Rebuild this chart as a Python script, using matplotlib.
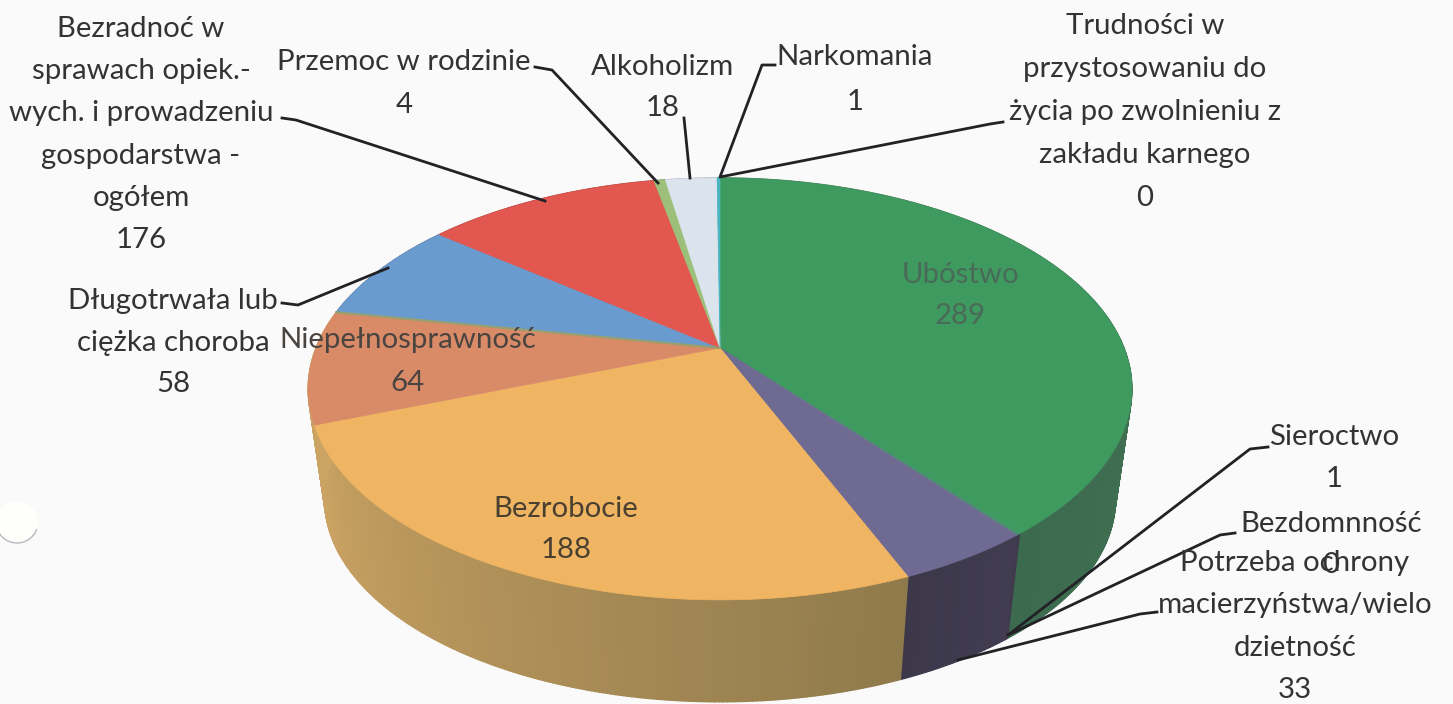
import numpy as np
import matplotlib
matplotlib.use("Agg")
import matplotlib.pyplot as plt
from matplotlib.collections import PolyCollection
from matplotlib.colors import to_rgb
from matplotlib.patches import Circle, Arc

plt.rcParams['font.family'] = ['Lato', 'DejaVu Sans']

categories = ["Ubóstwo", "Sieroctwo", "Bezdomnność", "Potrzeba ochrony macierzyństwa/wielo dzietność",
              "Bezrobocie", "Niepełnosprawność", "Długotrwała lub ciężka choroba",
              "Bezradnoć w sprawach opiek.-wych. i prowadzeniu gospodarstwa - ogółem",
              "Przemoc w rodzinie", "Alkoholizm", "Narkomania",
              "Trudności w przystosowaniu do życia po zwolnieniu z zakładu karnego"]
# Slice sizes as drawn (the red slice is drawn smaller than its printed label)
slice_values = [289, 1, 0, 33, 188, 64, 58, 82, 4, 18, 1, 0]
top_colors = ['#3f9a60', '#4a8f70', '#4a8f70', '#6e6a92', '#f0b562', '#d98b68',
              '#6a9bcf', '#e2574f', '#9cc07a', '#dbe3ec', '#4ab5c0', '#4ab5c0']
side_from = ['#4a7c5c', '#3f3a4e', '#3f3a4e', '#413c50', '#8f7a4c', '#cba363',
             '#55779c', '#a8423c', '#7a9460', '#a8aeb6', '#38889a', '#38889a']
side_to = ['#3c6a4e', '#3f3a4e', '#3f3a4e', '#3c384a', '#cba363', '#cba363',
           '#55779c', '#a8423c', '#7a9460', '#a8aeb6', '#38889a', '#38889a']

# (text lines, centre x, first-line y, line pitch, colour)
labels = [
    (["Ubóstwo", "289"], 960, 275, 41, '#4a6a58'),
    (["Bezrobocie", "188"], 566, 509, 41, '#4a4030'),
    (["Niepełnosprawność", "64"], 408, 340, 43, '#4a4440'),
    (["Długotrwała lub", "ciężka choroba", "58"], 173, 301, 41.5, '#333333'),
    (["Bezradnoć w", "sprawach opiek.-", "wych. i prowadzeniu", "gospodarstwa -", "ogółem", "176"], 141, 29, 42.2, '#333333'),
    (["Przemoc w rodzinie", "4"], 404, 62, 43, '#333333'),
    (["Alkoholizm", "18"], 663, 67, 41, '#333333'),
    (["Narkomania", "1"], 855, 57, 45, '#333333'),
    (["Trudności w", "przystosowaniu do", "życia po zwolnieniu z", "zakładu karnego", "0"], 1145, 26, 43, '#333333'),
    (["Sieroctwo", "1"], 1334, 437, 42, '#333333'),
    (["Bezdomnność", "0"], 1331, 524, 41, '#333333'),
    (["Potrzeba ochrony", "macierzyństwa/wielo", "dzietność", "33"], 1295, 563, 42.3, '#333333'),
]
leaders = [
    [(282, 118), (296, 120), (545, 201)],
    [(535, 67), (552, 70), (658, 183)],
    [(684, 118), (690, 178)],
    [(775, 65), (762, 65), (720, 177), (990, 124), (1003, 122)],
    [(282, 303), (298, 305), (388, 268)],
    [(1268, 447), (1250, 449), (1008, 635)],
    [(1235, 533), (1220, 535), (1008, 635)],
    [(1157, 612), (1140, 614), (958, 660)],
]

CX, CY, RX, RY, PERSP = 720, 348, 404, 203, 0.194
BASE_SCALE, BASE_SHIFT = 0.96, 112   # lower rim: a little smaller, further from the viewer


def project(theta, scale=1.0, shift=0.0):
    x, y = np.sin(theta), np.cos(theta)
    w = 1 + PERSP * y
    return CX + scale * RX * x / w, CY + shift - scale * RY * y / w


fig = plt.figure(figsize=(14.53, 7.04), dpi=100, facecolor='#fafafa')
ax = fig.add_axes([0, 0, 1, 1])
ax.set_xlim(0, 1453)
ax.set_ylim(704, 0)
ax.axis('off')

edges = np.radians(np.concatenate([[0], np.cumsum(slice_values)]) / sum(slice_values) * 360)

# side wall, built from narrow strips so the shading can vary along a slice
polys, cols = [], []
for i in range(len(slice_values)):
    a, b = edges[i], edges[i + 1]
    if b <= a:
        continue
    n = max(2, int(np.degrees(b - a) * 2))
    th = np.linspace(a, b, n + 1)
    sx, sy = project(th)
    bx, by = project(th, BASE_SCALE, BASE_SHIFT)
    c0, c1 = np.array(to_rgb(side_from[i])), np.array(to_rgb(side_to[i]))
    for j in range(n):
        polys.append([(sx[j], sy[j]), (sx[j + 1], sy[j + 1]),
                      (bx[j + 1], by[j + 1]), (bx[j], by[j])])
        cols.append(c0 + (c1 - c0) * (j + 0.5) / n)
ax.add_collection(PolyCollection(polys, facecolors=cols, edgecolors=cols, linewidths=1.0, zorder=1))

# top face
for i in range(len(slice_values)):
    a, b = edges[i], edges[i + 1]
    if b <= a:
        continue
    th = np.linspace(a, b, max(3, int(np.degrees(b - a) * 2)))
    sx, sy = project(th)
    ax.fill(np.r_[CX, sx], np.r_[CY, sy], facecolor=top_colors[i],
            edgecolor=top_colors[i], linewidth=0.5, zorder=2)

# thin greenish seam between the salmon and the blue slice
sx, sy = project(edges[6])
ax.plot([CX, sx], [CY, sy], color='#96a070', lw=1.6, zorder=2.5)

for pts in leaders:
    xs, ys = zip(*pts)
    ax.plot(xs, ys, color='#222226', lw=2.0, solid_joinstyle='round', zorder=3)

for lines, x, y, pitch, col in labels:
    for k, line in enumerate(lines):
        ax.text(x, y + k * pitch, line, ha='center', va='center', fontsize=21.2, color=col, zorder=4)

# punched hole in the scanned sheet
ax.add_patch(Circle((17, 522), 21, facecolor='#fefefb', edgecolor='none', zorder=1))
ax.add_patch(Arc((17, 522), 42, 42, theta1=20, theta2=150, color='#b8b8c0', lw=1.0, zorder=1))

fig.savefig('out.png', dpi=100, facecolor=fig.get_facecolor())
